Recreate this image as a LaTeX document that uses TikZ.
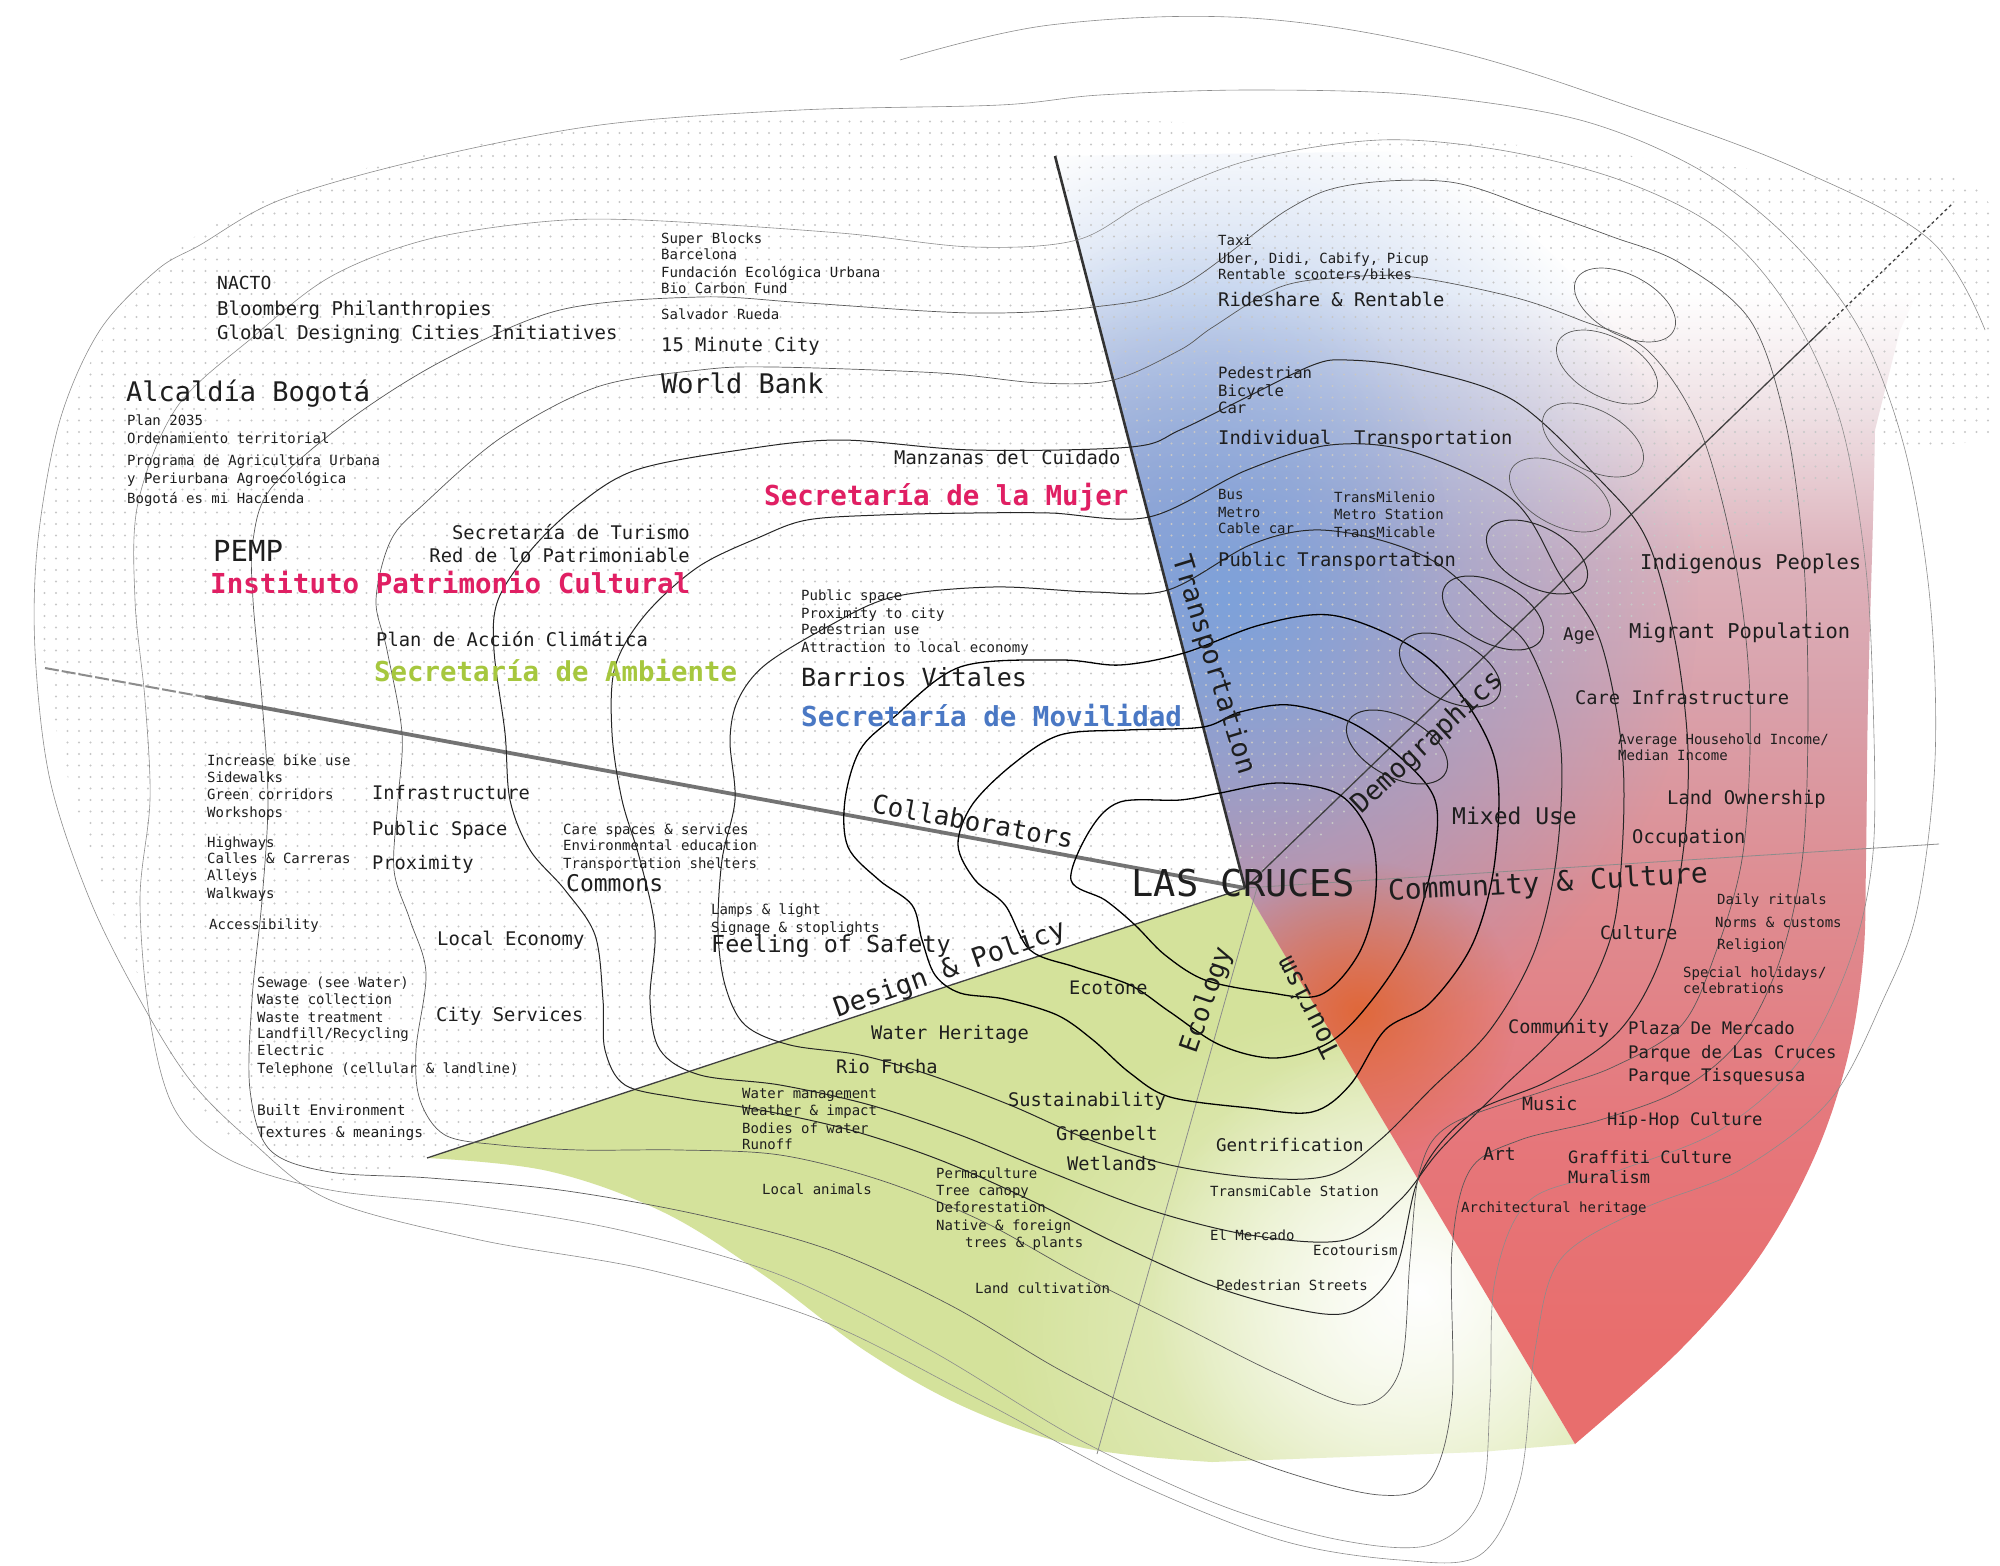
\documentclass[tikz,border=0pt]{standalone}
\usepackage{fontspec}
\setmainfont{DejaVu Sans Mono}
\usetikzlibrary{fadings}
\definecolor{pinkT}{HTML}{E01F63}
\definecolor{greenT}{HTML}{A6C73E}
\definecolor{blueT}{HTML}{4A78C4}
\definecolor{greenR}{HTML}{D4E29B}
\definecolor{blueR}{HTML}{7EA1DA}
\definecolor{orangeR}{HTML}{E0683A}
\definecolor{ink}{HTML}{1E1E1E}
\definecolor{rs1}{HTML}{E86E6D}
\definecolor{rs2}{HTML}{E6767A}
\definecolor{rs3}{HTML}{DE8D92}
\definecolor{rs4}{HTML}{D9A1AB}
\definecolor{rs5}{HTML}{DDB2BB}
\definecolor{rs6}{HTML}{EEDFE3}
\pgfdeclareverticalshading{redv}{100bp}{color(0bp)=(rs1); color(29bp)=(rs1); color(36.5bp)=(rs2); color(46.5bp)=(rs3); color(54bp)=(rs4); color(59.3bp)=(rs5); color(64.7bp)=(rs6); color(69.5bp)=(white); color(100bp)=(white)}
\tikzfading[name=glow, inner color=transparent!0, outer color=transparent!100]
\newcommand\myfs[1]{\fontsize{#1}{#1}\selectfont}
\tikzset{
  lbl/.style={anchor=mid west, inner sep=0pt, text=ink},
  rlbl/.style={anchor=mid east, inner sep=0pt, text=ink},
  clbl/.style={anchor=center, inner sep=0pt, text=ink},
  fsz/.style={font=\myfs{#1}, yshift=-0.25*#1},
  dotrow/.style={line width=2.3pt, black!22, dash pattern=on 0pt off 11.5pt, line cap=round},
  cA/.style={draw=black, line width=1.3pt},
  cB/.style={draw=black!85, line width=1pt},
  cC/.style={draw=black!65, line width=0.7pt},
  cD/.style={draw=black!45, line width=0.6pt},
  collab/.style={draw=black!55, line width=3.8pt},
  collabthin/.style={draw=black!45, line width=2pt, dash pattern=on 14pt off 3pt},
  axisdark/.style={draw=black!80, line width=2.6pt},
  axisthin/.style={draw=black!75, line width=1.3pt},
  axislight/.style={draw=black!45, line width=0.8pt}
}
\def\Ppath{(1245,888) -- (1055,156) -- (1500,150) -- (1960,200) -- (1900,330) -- plot[smooth, tension=0.6] coordinates {(1875,430) (1873,520) (1868,700) (1866,860) (1863,960) (1847,1060) (1813,1160) (1757,1260) (1680,1350) (1575,1444)} -- cycle}
\begin{document}
\begin{tikzpicture}[x=1pt,y=-1pt]
\useasboundingbox (0,0) rectangle (2000,1566);
\fill[white] (0,0) rectangle (2000,1566);

% ---------- green wedge ----------
\fill[greenR] (1245,888) -- plot[smooth, tension=0.6] coordinates {(427,1158) (548,1171) (663,1212) (765,1276) (867,1352) (969,1409) (1084,1448) (1212,1462)} -- (1480,1452) -- (1575,1444) -- cycle;
\begin{scope}
\clip (1245,888) -- (427,1158) -- (427,1480) -- (1600,1480) -- cycle;
\fill[white, path fading=glow] (1420,1290) ellipse (270 and 260);
\fill[white, path fading=glow, fill opacity=0.6] (1380,1330) ellipse (380 and 330);
\end{scope}

% ---------- blue / red wedge ----------
\shade[shading=redv] \Ppath;
\begin{scope}
\clip \Ppath;
\fill[blueR, path fading=glow] (1230,600) ellipse (470 and 480);
\fill[blueR, path fading=glow, fill opacity=0.5] (1190,560) ellipse (260 and 330);
\fill[orangeR, path fading=glow] (1358,1010) ellipse (160 and 150);
\end{scope}

% ---------- dotted texture ----------
\begin{scope}
\clip (0,0) -- (2000,0) -- (2000,440) -- (1880,450) -- (1245,888) -- (427,1158) -- (0,1300) -- cycle;
\clip plot[smooth cycle, tension=0.6] coordinates {(45,668) (40,540) (70,410) (130,300) (230,215) (400,160) (620,125) (850,112) (1060,118) (1300,128) (1550,148) (1800,175) (1990,205) (1990,500) (1500,800) (1000,1000) (430,1175) (300,1165) (200,1110) (140,980) (80,820)};
\foreach \yy in {110,121.5,...,1190} \draw[dotrow] (10,\yy) -- (1990,\yy);
\end{scope}

% ---------- axes ----------
\coordinate (C) at (1245,888);
\coordinate (Ttop) at (1055,156);
\coordinate (Dmid) at (1824,328);
\coordinate (Dend) at (1952,204);
\coordinate (Rend) at (1939,844);
\coordinate (Lend) at (45,668);
\coordinate (Lmid) at (205,697);
\coordinate (Gend) at (427,1158);
\coordinate (Etop) at (1262,870);
\coordinate (Ebot) at (1097,1454);
\draw[collabthin] (Lend) -- (Lmid);
\draw[collab] (Lmid) -- (C);
\draw[axisthin] (C) -- (Gend);
\draw[axisthin] (C) -- (Dmid);
\draw[axisthin, dashed] (Dmid) -- (Dend);
\draw[axislight] (C) -- (Rend);
\draw[axislight] (Etop) -- (Ebot);
\draw[axisdark] (C) -- (Ttop);

% ---------- contours ----------
\draw[cA] plot[smooth cycle, tension=0.55] coordinates {(1071,880) (1090,830) (1120,802) (1180,800) (1220,793) (1280,783) (1340,795) (1372,840) (1375,900) (1358,955) (1320,995) (1265,992) (1205,980) (1165,955) (1135,925) (1105,900)};
\draw[cA] plot[smooth cycle, tension=0.55] coordinates {(1203,727) (1127,730) (1060,735) (1012,765) (972,805) (958,845) (975,880) (1005,905) (1030,950) (1075,967) (1130,985) (1170,1012) (1220,1045) (1275,1058) (1330,1042) (1372,1000) (1410,940) (1433,860) (1435,800) (1400,757) (1350,722) (1290,705) (1240,712)};
\draw[cA] plot[smooth cycle, tension=0.55] coordinates {(1184,653) (1120,665) (1060,660) (960,667) (893,718) (860,750) (845,800) (848,847) (879,880) (912,905) (922,940) (935,975) (960,993) (1004,999) (1057,1015) (1093,1040) (1130,1073) (1170,1097) (1250,1108) (1312,1112) (1350,1085) (1385,1030) (1430,1003) (1473,943) (1495,860) (1495,760) (1450,680) (1400,640) (1330,615) (1260,625)};
\draw[cB] plot[smooth cycle, tension=0.55] coordinates {(1168,590) (1093,592) (993,587) (893,597) (827,627) (765,665) (738,700) (730,740) (735,800) (722,860) (718,930) (725,985) (745,1025) (790,1045) (860,1055) (930,1075) (1010,1105) (1090,1140) (1170,1165) (1260,1178) (1330,1175) (1380,1140) (1430,1090) (1490,1030) (1535,950) (1557,853) (1560,740) (1530,650) (1493,613) (1440,565) (1380,540) (1313,530) (1250,545)};
\draw[cB] plot[smooth cycle, tension=0.55] coordinates {(1149,517) (1050,513) (973,513) (880,515) (807,520) (760,537) (698,567) (645,615) (615,667) (612,733) (622,800) (640,860) (655,930) (650,1000) (660,1050) (700,1075) (780,1085) (870,1105) (960,1135) (1050,1172) (1150,1210) (1250,1235) (1345,1240) (1400,1200) (1440,1150) (1500,1090) (1570,1020) (1610,940) (1622,853) (1622,750) (1600,640) (1560,575) (1513,500) (1413,452) (1330,445) (1247,470)};
\draw[cB] plot[smooth cycle, tension=0.55] coordinates {(1131,447) (973,450) (840,440) (740,450) (636,470) (578,505) (531,550) (498,600) (494,650) (505,733) (510,800) (530,850) (565,890) (595,935) (603,1000) (605,1050) (625,1085) (680,1098) (760,1110) (850,1130) (940,1160) (1030,1200) (1120,1245) (1210,1285) (1290,1308) (1350,1312) (1395,1270) (1420,1175) (1470,1115) (1550,1080) (1620,1030) (1662,955) (1683,853) (1688,750) (1675,640) (1647,540) (1600,480) (1513,400) (1413,368) (1347,360) (1313,365) (1247,397) (1180,430)};
\draw[cC] plot[smooth cycle, tension=0.55] coordinates {(1113,380) (1040,383) (940,373) (773,367) (700,370) (597,387) (502,437) (425,503) (391,540) (376,600) (387,650) (402,733) (398,800) (394,870) (410,920) (426,973) (416,1050) (420,1100) (445,1135) (500,1145) (580,1150) (680,1150) (780,1155) (880,1180) (980,1220) (1080,1275) (1180,1325) (1280,1375) (1360,1405) (1400,1370) (1410,1260) (1420,1170) (1450,1125) (1547,1090) (1613,1067) (1680,1027) (1713,960) (1743,853) (1750,700) (1735,560) (1700,430) (1647,350) (1580,320) (1513,297) (1413,277) (1347,277) (1280,287) (1213,327) (1180,350)};
\draw[cC] plot[smooth cycle, tension=0.55] coordinates {(1094,307) (973,313) (807,303) (700,297) (560,310) (444,360) (349,420) (272,487) (253,540) (253,600) (262,700) (268,800) (262,900) (252,1000) (250,1090) (270,1150) (330,1172) (430,1178) (560,1190) (700,1215) (830,1250) (950,1305) (1060,1370) (1170,1425) (1280,1470) (1380,1495) (1430,1480) (1452,1400) (1452,1250) (1470,1170) (1520,1140) (1600,1120) (1680,1090) (1740,1040) (1780,960) (1803,853) (1808,700) (1803,550) (1785,420) (1750,320) (1680,263) (1613,237) (1537,210) (1450,182) (1350,185) (1287,210) (1180,287)};
\draw[cD] plot[smooth cycle, tension=0.55] coordinates {(1077,240) (973,247) (840,233) (640,220) (540,222) (425,240) (330,277) (253,337) (177,407) (138,503) (135,600) (145,700) (150,800) (140,900) (150,1020) (175,1110) (230,1160) (330,1190) (470,1205) (620,1230) (780,1275) (930,1350) (1080,1440) (1220,1505) (1340,1540) (1430,1545) (1480,1500) (1490,1400) (1495,1280) (1530,1200) (1620,1170) (1720,1130) (1800,1060) (1850,960) (1873,853) (1873,700) (1865,560) (1840,420) (1790,310) (1720,230) (1620,180) (1500,150) (1380,140) (1250,160) (1150,200)};
\draw[cD] plot[smooth cycle, tension=0.55] coordinates {(1000,105) (800,110) (600,125) (420,160) (280,200) (200,245) (157,270) (100,330) (60,420) (38,540) (35,650) (50,780) (90,900) (140,1000) (190,1080) (250,1140) (330,1200) (480,1240) (650,1270) (820,1320) (980,1400) (1130,1480) (1280,1540) (1400,1560) (1480,1555) (1520,1480) (1535,1350) (1560,1260) (1640,1210) (1740,1170) (1830,1100) (1883,1000) (1917,910) (1935,760) (1930,600) (1905,450) (1860,330) (1790,240) (1700,170) (1580,120) (1420,95) (1250,90) (1100,95)};
\draw[cD] plot[smooth, tension=0.6] coordinates {(900,60) (1050,25) (1250,18) (1450,50) (1640,110) (1800,170) (1930,240) (1985,330)};
\foreach \cx/\cy in {1397/747, 1450/670, 1493/613, 1537/557}
  \draw[cB, rotate around={-28:(\cx,\cy)}] (\cx,\cy) ellipse (55 and 30);
\foreach \cx/\cy in {1560/495, 1593/440, 1607/367, 1625/305}
  \draw[cC, rotate around={-28:(\cx,\cy)}] (\cx,\cy) ellipse (55 and 30);

% ---------- texts: upper left ----------
\node[lbl, fsz=18] (t1) at (217,282) {NACTO};
\node[lbl, fsz=19] (t2) at (217,308) {Bloomberg Philanthropies};
\node[lbl, fsz=19] (t3) at (217,332) {Global Designing Cities Initiatives};
\node[lbl, fsz=27] (t4) at (126,392) {Alcaldía Bogotá};
\node[lbl, fsz=14] (t5) at (127,419) {Plan 2035};
\node[lbl, fsz=14] (t6) at (127,437) {Ordenamiento territorial};
\node[lbl, fsz=14] (t7) at (127,459) {Programa de Agricultura Urbana};
\node[lbl, fsz=14] (t8) at (127,477) {y Periurbana Agroecológica};
\node[lbl, fsz=14] (t9) at (127,497) {Bogotá es mi Hacienda};
\node[lbl, fsz=14] (t10) at (661,237) {Super Blocks};
\node[lbl, fsz=14] (t11) at (661,253) {Barcelona};
\node[lbl, fsz=14] (t12) at (661,271) {Fundación Ecológica Urbana};
\node[lbl, fsz=14] (t13) at (661,287) {Bio Carbon Fund};
\node[lbl, fsz=14] (t14) at (661,313) {Salvador Rueda};
\node[lbl, fsz=18.8] (t15) at (661,344) {15 Minute City};
\node[lbl, fsz=27] (t16) at (661,384) {World Bank};
\node[lbl, fsz=18.8] (t17) at (894,457) {Manzanas del Cuidado};
\node[lbl, fsz=27.5, font=\myfs{27.5}\bfseries, text=pinkT] (t18) at (764,496) {Secretaría de la Mujer};
\node[rlbl, fsz=18.8] (t19) at (690,532) {Secretaría de Turismo};
\node[rlbl, fsz=18.8] (t20) at (690,555) {Red de lo Patrimoniable};
\node[lbl, fsz=29] (t21) at (213,552) {PEMP};
\node[lbl, fsz=27.5, font=\myfs{27.5}\bfseries, text=pinkT] (t22) at (210,584) {Instituto Patrimonio Cultural};
\node[lbl, fsz=18.8] (t23) at (376,639) {Plan de Acción Climática};
\node[lbl, fsz=27.4, font=\myfs{27.4}\bfseries, text=greenT] (t24) at (374,672) {Secretaría de Ambiente};
\node[lbl, fsz=14] (t25) at (801,594) {Public space};
\node[lbl, fsz=14] (t26) at (801,612) {Proximity to city};
\node[lbl, fsz=14] (t27) at (801,628) {Pedestrian use};
\node[lbl, fsz=14] (t28) at (801,646) {Attraction to local economy};
\node[lbl, fsz=25] (t29) at (801,678) {Barrios Vitales};
\node[lbl, fsz=27.5, font=\myfs{27.5}\bfseries, text=blueT] (t30) at (801,717) {Secretaría de Movilidad};

% ---------- texts: transportation ----------
\node[lbl, fsz=14] (t31) at (1218,239) {Taxi};
\node[lbl, fsz=14] (t32) at (1218,257) {Uber, Didi, Cabify, Picup};
\node[lbl, fsz=14] (t33) at (1218,273) {Rentable scooters/bikes};
\node[lbl, fsz=18.8] (t34) at (1218,299) {Rideshare \& Rentable};
\node[lbl, fsz=15.6] (t35) at (1218,372) {Pedestrian};
\node[lbl, fsz=15.6] (t36) at (1218,390) {Bicycle};
\node[lbl, fsz=15.6] (t37) at (1218,407) {Car};
\node[lbl, fsz=18.8] (t38) at (1218,437) {Individual\ \ Transportation};
\node[lbl, fsz=14] (t39) at (1218,493) {Bus};
\node[lbl, fsz=14] (t40) at (1218,511) {Metro};
\node[lbl, fsz=14] (t41) at (1218,527) {Cable car};
\node[lbl, fsz=14] (t42) at (1334,496) {TransMilenio};
\node[lbl, fsz=14] (t43) at (1334,513) {Metro Station};
\node[lbl, fsz=14] (t44) at (1334,531) {TransMicable};
\node[lbl, fsz=18.8] (t45) at (1218,559) {Public Transportation};

% ---------- texts: design & policy ----------
\node[lbl, fsz=14] (t46) at (207,759) {Increase bike use};
\node[lbl, fsz=14] (t47) at (207,776) {Sidewalks};
\node[lbl, fsz=14] (t48) at (207,793) {Green corridors};
\node[lbl, fsz=14] (t49) at (207,811) {Workshops};
\node[lbl, fsz=14] (t50) at (207,841) {Highways};
\node[lbl, fsz=14] (t51) at (207,857) {Calles \& Carreras};
\node[lbl, fsz=14] (t52) at (207,874) {Alleys};
\node[lbl, fsz=14] (t53) at (207,892) {Walkways};
\node[lbl, fsz=14] (t54) at (209,923) {Accessibility};
\node[lbl, fsz=18.7] (t55) at (372,792) {Infrastructure};
\node[lbl, fsz=18.7] (t56) at (372,828) {Public Space};
\node[lbl, fsz=18.7] (t57) at (372,862) {Proximity};
\node[lbl, fsz=14] (t58) at (563,828) {Care spaces \& services};
\node[lbl, fsz=14] (t59) at (563,844) {Environmental education};
\node[lbl, fsz=14] (t60) at (563,862) {Transportation shelters};
\node[lbl, fsz=23] (t61) at (566,883) {Commons};
\node[lbl, fsz=18.8] (t62) at (437,938) {Local Economy};
\node[lbl, fsz=14] (t63) at (257,981) {Sewage (see Water)};
\node[lbl, fsz=14] (t64) at (257,998) {Waste collection};
\node[lbl, fsz=14] (t65) at (257,1016) {Waste treatment};
\node[lbl, fsz=14] (t66) at (257,1032) {Landfill/Recycling};
\node[lbl, fsz=14] (t67) at (257,1049) {Electric};
\node[lbl, fsz=14] (t68) at (257,1067) {Telephone (cellular \& landline)};
\node[lbl, fsz=18.8] (t69) at (436,1014) {City Services};
\node[lbl, fsz=14.5] (t70) at (257,1109) {Built Environment};
\node[lbl, fsz=14.5] (t71) at (257,1131) {Textures \& meanings};
\node[lbl, fsz=14] (t72) at (711,908) {Lamps \& light};
\node[lbl, fsz=14] (t73) at (711,926) {Signage \& stoplights};
\node[lbl, fsz=23.4] (t74) at (711,944) {Feeling of Safety};

% ---------- axis titles ----------
\node[clbl, font=\myfs{26}, rotate=-10.1] (a1) at (973,821) {Collaborators};
\node[clbl, font=\myfs{27}, rotate=19.5] (a2) at (950,970) {Design \& Policy};
\node[clbl, font=\myfs{27}, rotate=-72.8] (a3) at (1213,665) {Transportation};
\node[clbl, font=\myfs{27}, rotate=43] (a4) at (1428,743) {Demographics};
\node[clbl, font=\myfs{28}, rotate=3.2] (a5) at (1548,884) {Community \& Culture};
\node[clbl, font=\myfs{26}, rotate=71] (a6) at (1207,1000) {Ecology};
\node[clbl, font=\myfs{26}, rotate=117] (a7) at (1307,1008) {Tourism};
\node[clbl, font=\myfs{37}] (a8) at (1243,883) {LAS CRUCES};

% ---------- texts: ecology ----------
\node[lbl, fsz=18.6] (t83) at (1069,987) {Ecotone};
\node[lbl, fsz=18.7] (t84) at (871,1032) {Water Heritage};
\node[lbl, fsz=18.7] (t85) at (836,1066) {Rio Fucha};
\node[lbl, fsz=18.7] (t86) at (1008,1099) {Sustainability};
\node[lbl, fsz=14] (t87) at (742,1092) {Water management};
\node[lbl, fsz=14] (t88) at (742,1109) {Weather \& impact};
\node[lbl, fsz=14] (t89) at (742,1127) {Bodies of water};
\node[lbl, fsz=14] (t90) at (742,1143) {Runoff};
\node[lbl, fsz=14] (t91) at (762,1188) {Local animals};
\node[lbl, fsz=14] (t92) at (936,1172) {Permaculture};
\node[lbl, fsz=14] (t93) at (936,1189) {Tree canopy};
\node[lbl, fsz=14] (t94) at (936,1206) {Deforestation};
\node[lbl, fsz=14] (t95) at (936,1224) {Native \& foreign};
\node[lbl, fsz=14] (t96) at (965,1241) {trees \& plants};
\node[lbl, fsz=14] (t97) at (975,1287) {Land cultivation};
\node[lbl, fsz=18.7] (t98) at (1056,1133) {Greenbelt};
\node[lbl, fsz=18.7] (t99) at (1067,1163) {Wetlands};
\node[lbl, fsz=17.5] (t100) at (1216,1144) {Gentrification};
\node[lbl, fsz=14] (t101) at (1210,1190) {TransmiCable Station};
\node[lbl, fsz=14] (t102) at (1210,1234) {El Mercado};
\node[lbl, fsz=14] (t103) at (1313,1249) {Ecotourism};
\node[lbl, fsz=14] (t104) at (1216,1284) {Pedestrian Streets};

% ---------- texts: demographics / culture ----------
\node[lbl, fsz=20.4] (t105) at (1640,562) {Indigenous Peoples};
\node[lbl, fsz=17.5] (t106) at (1563,633) {Age};
\node[lbl, fsz=20.4] (t107) at (1629,631) {Migrant Population};
\node[lbl, fsz=18.7] (t108) at (1575,697) {Care Infrastructure};
\node[lbl, fsz=14] (t109) at (1618,738) {Average Household Income/};
\node[lbl, fsz=14] (t110) at (1618,754) {Median Income};
\node[lbl, fsz=18.8] (t111) at (1667,797) {Land Ownership};
\node[lbl, fsz=23] (t112) at (1452,816) {Mixed Use};
\node[lbl, fsz=18.8] (t113) at (1632,836) {Occupation};
\node[lbl, fsz=14] (t114) at (1717,898) {Daily rituals};
\node[lbl, fsz=14] (t115) at (1715,921) {Norms \& customs};
\node[lbl, fsz=14] (t116) at (1717,943) {Religion};
\node[lbl, fsz=18.3] (t117) at (1600,932) {Culture};
\node[lbl, fsz=14] (t118) at (1683,971) {Special holidays/};
\node[lbl, fsz=14] (t119) at (1683,987) {celebrations};
\node[lbl, fsz=18.6] (t120) at (1508,1026) {Community};
\node[lbl, fsz=17.3] (t121) at (1628,1027) {Plaza De Mercado};
\node[lbl, fsz=17.3] (t122) at (1628,1051) {Parque de Las Cruces};
\node[lbl, fsz=17.3] (t123) at (1628,1074) {Parque Tisquesusa};
\node[lbl, fsz=18.3] (t124) at (1522,1103) {Music};
\node[lbl, fsz=17.2] (t125) at (1607,1118) {Hip-Hop Culture};
\node[lbl, fsz=18] (t126) at (1483,1153) {Art};
\node[lbl, fsz=17] (t127) at (1568,1157) {Graffiti Culture};
\node[lbl, fsz=17] (t128) at (1568,1177) {Muralism};
\node[lbl, fsz=14] (t129) at (1461,1206) {Architectural heritage};
\end{tikzpicture}
\end{document}
